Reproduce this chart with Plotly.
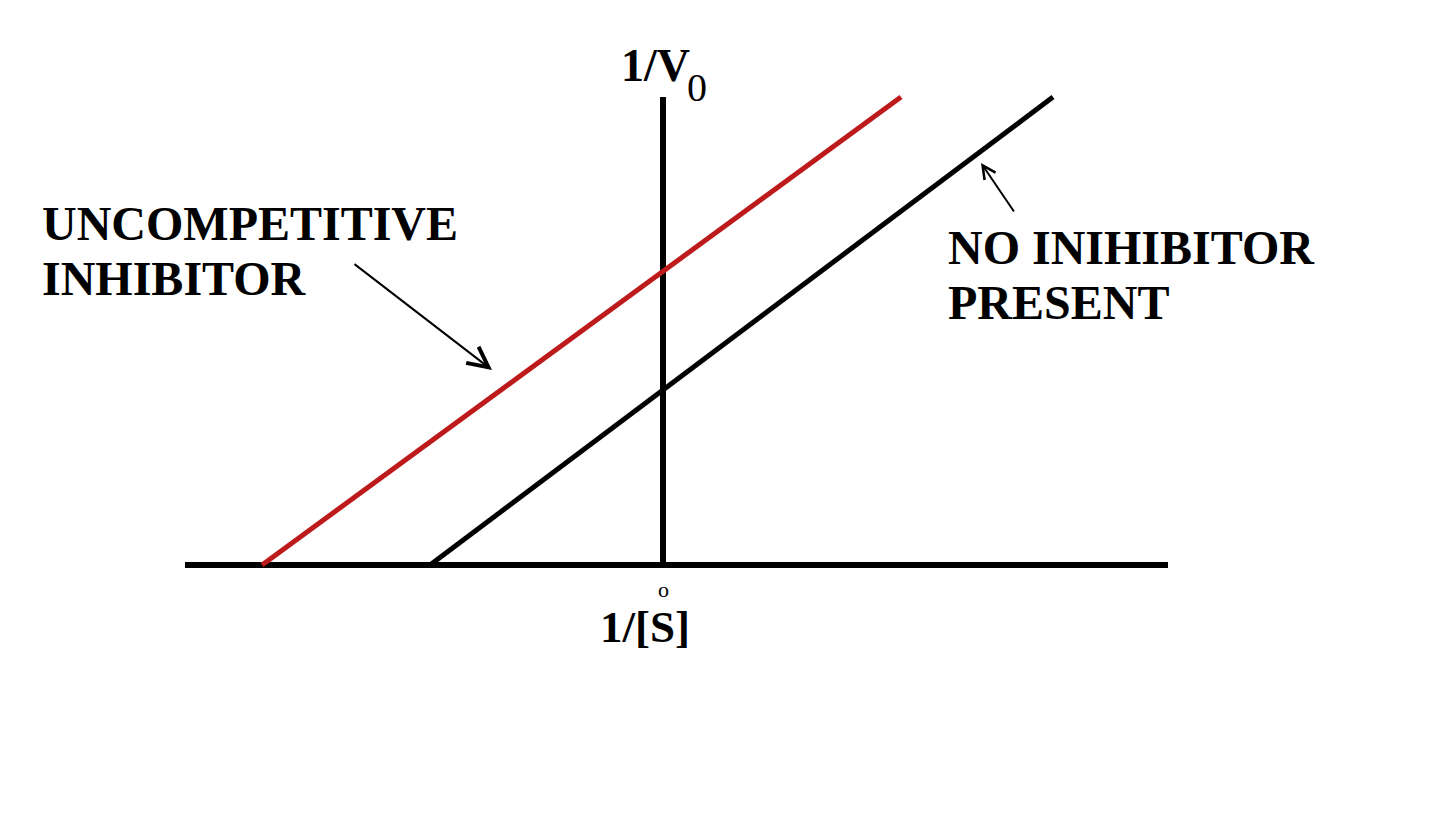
import plotly.graph_objects as go

# axis lines (data units, y axis sits at x = 0)
axis_x_x = [-4.78, 5.05]
axis_x_y = [0, 0]
axis_y_x = [0, 0]
axis_y_y = [0, 4.68]

# Lineweaver-Burk lines
no_inhib_x = [-2.33, 3.90]
no_inhib_y = [0, 4.68]
uncomp_x = [-4.01, 2.38]
uncomp_y = [0, 4.68]

RED = "#bd1a1c"
FONT = "Liberation Serif"

fig = go.Figure()
fig.add_trace(go.Scatter(x=axis_x_x, y=axis_x_y, mode="lines",
                         line=dict(color="black", width=6)))
fig.add_trace(go.Scatter(x=axis_y_x, y=axis_y_y, mode="lines",
                         line=dict(color="black", width=6)))
fig.add_trace(go.Scatter(x=uncomp_x, y=uncomp_y, mode="lines",
                         line=dict(color=RED, width=5)))
fig.add_trace(go.Scatter(x=no_inhib_x, y=no_inhib_y, mode="lines",
                         line=dict(color="black", width=5)))


def label(text, x, y, size=48, bold=True, xanchor="left"):
    t = f"<b>{text}</b>" if bold else text
    fig.add_annotation(x=x, y=y, text=t, showarrow=False, xanchor=xanchor,
                       yanchor="middle", font=dict(family=FONT, size=size, color="black"))


label("UNCOMPETITIVE", -6.23, 3.42)
label("INHIBITOR", -6.23, 2.865)
label("NO INIHIBITOR", 2.83, 3.18)
label("PRESENT", 2.83, 2.63)
label("1/V", 0.29, 5.0, size=46, xanchor="right")
label("0", 0.22, 4.78, size=40, bold=False)
label("1/[S]", -0.18, -0.62, size=45, xanchor="center")
label("o", 0.0, -0.24, size=22, bold=False, xanchor="center")

# pointer arrows
fig.add_annotation(x=-1.71, y=1.95, ax=-3.10, ay=3.02, xref="x", yref="y",
                   axref="x", ayref="y", text="", showarrow=True,
                   arrowhead=5, arrowsize=2.0, arrowwidth=2, arrowcolor="black")
fig.add_annotation(x=3.18, y=4.02, ax=3.52, ay=3.52, xref="x", yref="y",
                   axref="x", ayref="y", text="", showarrow=True,
                   arrowhead=5, arrowsize=1.3, arrowwidth=2, arrowcolor="black")

fig.update_xaxes(range=[-6.55, 7.69], visible=False)
fig.update_yaxes(range=[-2.67, 5.57], visible=False)
fig.update_layout(width=1424, height=824, showlegend=False,
                  margin=dict(l=0, r=0, t=0, b=0),
                  plot_bgcolor="white", paper_bgcolor="white")

fig.write_html("out.html")
